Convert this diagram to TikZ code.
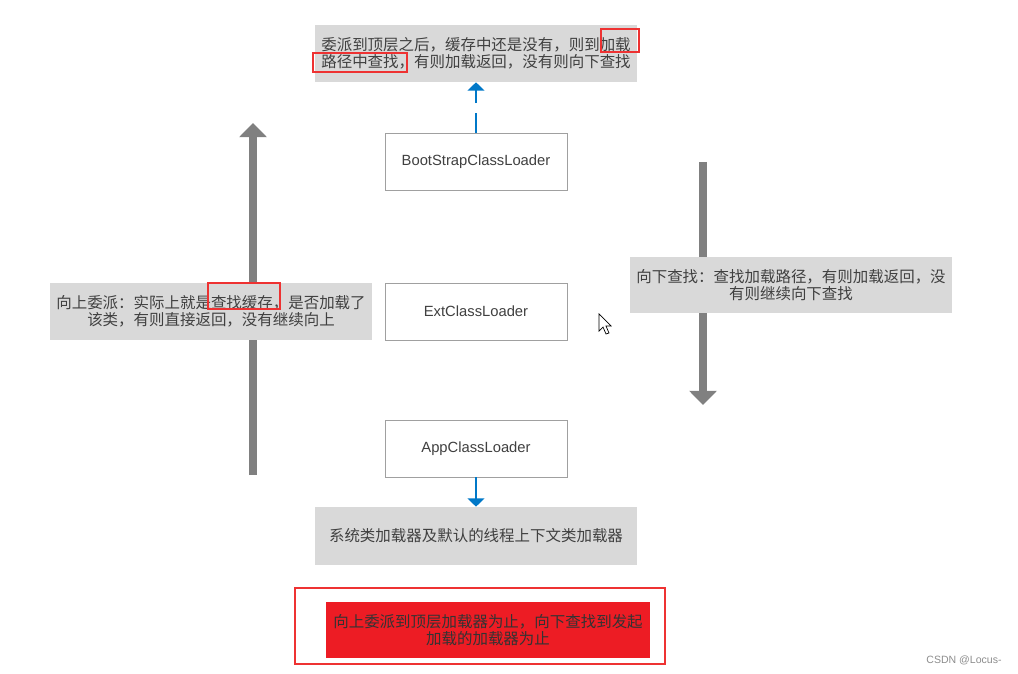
\documentclass[tikz,border=0pt]{standalone}
\usepackage{fontspec}
\setmainfont{Liberation Sans}
\newfontfamily\cjk{Noto Sans CJK SC}
\usetikzlibrary{arrows.meta}
\definecolor{boxgrey}{RGB}{217,217,217}
\definecolor{linegrey}{RGB}{160,160,160}
\definecolor{arrowgrey}{RGB}{128,128,128}
\definecolor{textgrey}{RGB}{64,64,64}
\definecolor{callblue}{RGB}{0,120,200}
\definecolor{hired}{RGB}{238,50,50}
\definecolor{fillred}{RGB}{237,28,36}

\begin{document}
\begin{tikzpicture}[x=0.025cm,y=-0.025cm,
	loader/.style={draw=linegrey,fill=white,minimum width=4.55cm,minimum height=1.425cm,inner sep=0pt,text=textgrey,font=\fontsize{10.5}{12}\selectfont},
	note/.style={fill=boxgrey,minimum width=8.05cm,minimum height=1.425cm,inner sep=0pt,align=center,text=textgrey,font=\cjk\fontsize{11}{12.4}\selectfont},
	flow/.style={draw=arrowgrey,line width=5pt,-{Triangle[width=19pt,length=10pt]}},
	callarrow/.style={draw=callblue,line width=1.4pt,-{Triangle[width=12pt,length=6pt]}},
	hilite/.style={draw=hired,line width=2pt}]
	\useasboundingbox (0,0) rectangle (1018,674);
	
	%BIG ARROWS
	\coordinate (upfrom) at (253,475);
	\coordinate (upto) at (253,123);
	\coordinate (downfrom) at (703,162);
	\coordinate (downto) at (703,405);
	\draw[flow] (upfrom)--(upto);
	\draw[flow] (downfrom)--(downto);
	
	%LOADERS
	\node[loader] (boot) at (476,161.5) {BootStrapClassLoader};
	\node[loader] (ext) at (476,311.5) {ExtClassLoader};
	\node[loader] (app) at (476,448.5) {AppClassLoader};
	
	%NOTES
	\node[note] (topnote) at (476,53.5) {委派到顶层之后，缓存中还是没有，则到加载\\路径中查找，有则加载返回，没有则向下查找};
	\node[note,minimum height=1.45cm] (sysnote) at (476,536) {系统类加载器及默认的线程上下文类加载器};
	\node[note] (upnote) at (211,311.5) {向上委派：实际上就是查找缓存，是否加载了\\该类，有则直接返回，没有继续向上};
	\node[note,minimum height=1.4cm] (downnote) at (791,285) {向下查找：查找加载路径，有则加载返回，没\\有则继续向下查找};
	
	\draw[callarrow,dash pattern=on 14pt off 7pt] (boot.north)--(boot.north |- topnote.south);
	\draw[callarrow] (app.south)--(app.south |- sysnote.north);
	
	%HIGHLIGHTS
	\draw[hilite] (601,29) rectangle (639,52);
	\draw[hilite] (313,53) rectangle (407,72);
	\draw[hilite] (208,283) rectangle (280,309);
	
	%SUMMARY
	\draw[hilite] (295,588) rectangle (665,664);
	\node[note,fill=fillred,minimum width=8.1cm,minimum height=1.4cm,text=black!80] (rule) at (488,630) {向上委派到顶层加载器为止，向下查找到发起\\加载的加载器为止};
	
	%CURSOR
	\draw[fill=white,line width=0.5pt] (599,314)--(599,331)--(603,327)--(606,334)--(609,333)--(606,326)--(611,326)--cycle;
	
	\node[text=black!45,font=\fontsize{7.5}{9}\selectfont] (wm) at (964,660) {CSDN @Locus-};
\end{tikzpicture}
\end{document}
